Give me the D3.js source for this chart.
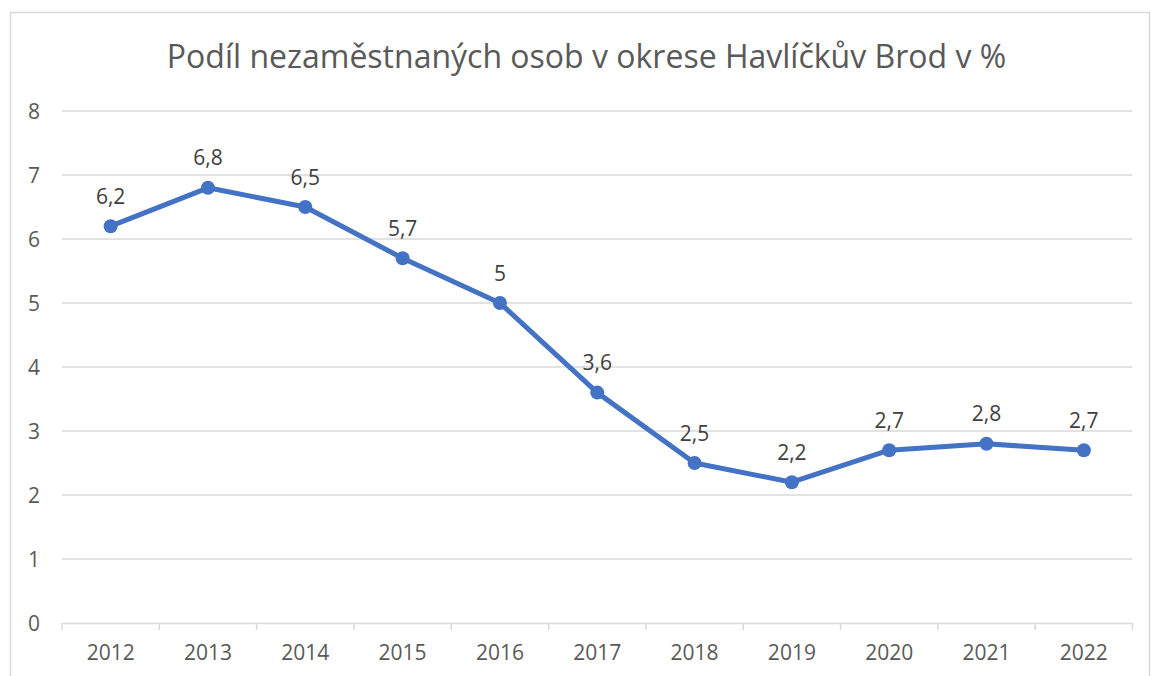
<!DOCTYPE html>
<html>
<head>
<meta charset="utf-8">
<script src="https://cdn.jsdelivr.net/npm/d3@7"></script>
<style>
  body { margin: 0; background: #fff; }
  text { font-family: "Open Sans", "Noto Sans", sans-serif; }
</style>
</head>
<body>
<svg width="1151" height="676"></svg>
<script>
let title = 'Podíl nezaměstnaných osob v okrese Havlíčkův Brod v %';
let years = ['2012', '2013', '2014', '2015', '2016', '2017', '2018', '2019', '2020', '2021', '2022'];
let values = [6.2, 6.8, 6.5, 5.7, 5, 3.6, 2.5, 2.2, 2.7, 2.8, 2.7];
let yTicks = [0, 1, 2, 3, 4, 5, 6, 7, 8];

let svg = d3.select('svg');

// chart frame
svg.append('rect')
  .attr('x', 10.5)
  .attr('y', 12.5)
  .attr('width', 1139)
  .attr('height', 700)
  .attr('fill', 'none')
  .attr('stroke', '#d9d9d9')
  .attr('stroke-width', 1.5);

let x = d3.scaleBand()
  .domain(years)
  .range([62, 1132.5]);

let y = d3.scaleLinear()
  .domain([0, 8])
  .range([623, 111]);

// gridlines
svg.append('g')
  .selectAll('line')
  .data(yTicks.filter(d => d > 0))
  .join('line')
    .attr('x1', 62)
    .attr('x2', 1132.5)
    .attr('y1', d => y(d))
    .attr('y2', d => y(d))
    .attr('stroke', '#d9d9d9')
    .attr('stroke-width', 1.5);

// y labels
svg.append('g')
  .selectAll('text')
  .data(yTicks)
  .join('text')
    .attr('x', 40)
    .attr('y', d => y(d))
    .attr('dy', '0.36em')
    .attr('text-anchor', 'end')
    .attr('font-size', 21)
    .attr('fill', '#595959')
    .text(d => d);

// x axis
let xAxis = d3.axisBottom(x)
  .tickSizeInner(0)
  .tickSizeOuter(0)
  .tickPadding(22);

let gx = svg.append('g')
  .attr('transform', `translate(0, ${y(0)})`)
  .call(xAxis);

gx.select('.domain')
  .attr('stroke', '#d9d9d9')
  .attr('stroke-width', 1.5);

gx.selectAll('.tick text')
  .attr('font-size', 21)
  .attr('font-family', '"Open Sans", "Noto Sans", sans-serif')
  .attr('fill', '#595959');

// band boundary ticks
let bounds = years.map(d => x(d)).concat([x.range()[1]]);
gx.selectAll('.bound')
  .data(bounds)
  .join('line')
    .attr('class', 'bound')
    .attr('x1', d => d)
    .attr('x2', d => d)
    .attr('y1', 0)
    .attr('y2', 7)
    .attr('stroke', '#d9d9d9')
    .attr('stroke-width', 1.5);

// line
let cx = d => x(d) + x.bandwidth() / 2;

let line = d3.line()
  .x((d, i) => cx(years[i]))
  .y(d => y(d));

svg.append('path')
  .datum(values)
  .attr('d', line)
  .attr('fill', 'none')
  .attr('stroke', '#4472c4')
  .attr('stroke-width', 5)
  .attr('stroke-linejoin', 'round');

svg.append('g')
  .selectAll('circle')
  .data(values)
  .join('circle')
    .attr('cx', (d, i) => cx(years[i]))
    .attr('cy', d => y(d))
    .attr('r', 7)
    .attr('fill', '#4472c4');

// data labels
svg.append('g')
  .selectAll('text')
  .data(values)
  .join('text')
    .attr('x', (d, i) => cx(years[i]))
    .attr('y', d => y(d) - 30)
    .attr('dy', '0.36em')
    .attr('text-anchor', 'middle')
    .attr('font-size', 21)
    .attr('fill', '#404040')
    .text(d => String(d).replace('.', ','));

// title
svg.append('text')
  .attr('x', 586.5)
  .attr('y', 67.5)
  .attr('text-anchor', 'middle')
  .attr('font-size', 32)
  .attr('fill', '#595959')
  .text(title);
</script>
</body>
</html>
